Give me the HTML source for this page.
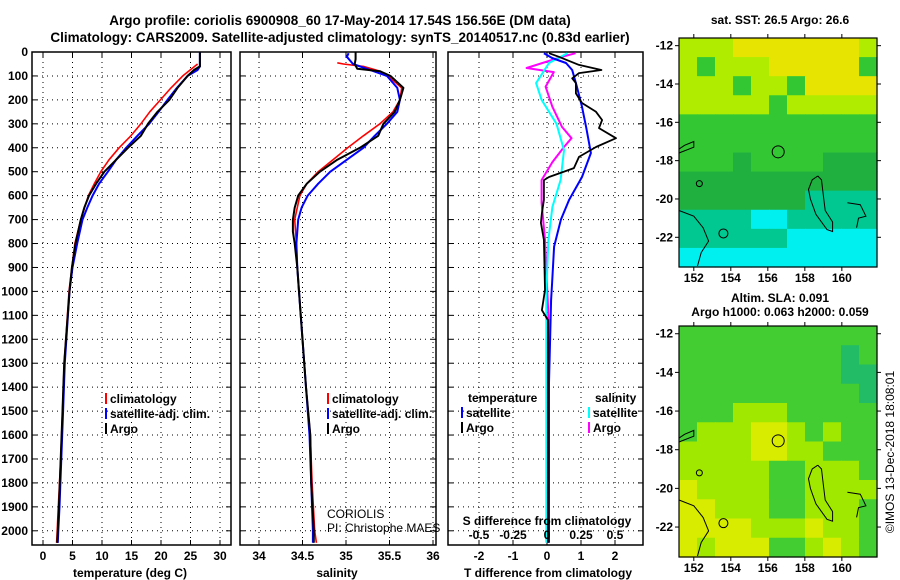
<!DOCTYPE html>
<html><head><meta charset="utf-8"><style>
html,body{margin:0;padding:0;background:#fff;}
svg{display:block;font-family:"Liberation Sans",sans-serif;}
.b{font-weight:bold;font-size:12px;}
</style></head><body>
<svg id="s" width="900" height="580" viewBox="0 0 900 580" xmlns="http://www.w3.org/2000/svg">
<text x="340" y="25" text-anchor="middle" class="b" style="font-size:13.5px">Argo profile: coriolis 6900908_60 17-May-2014 17.54S 156.56E (DM data)</text>
<text x="340" y="42" text-anchor="middle" class="b" style="font-size:13.5px">Climatology: CARS2009. Satellite-adjusted climatology: synTS_20140517.nc (0.83d earlier)</text>
<text x="780" y="24" text-anchor="middle" class="b">sat. SST: 26.5 Argo: 26.6</text>
<text x="780" y="302" text-anchor="middle" class="b">Altim. SLA: 0.091</text>
<text x="780" y="316" text-anchor="middle" class="b">Argo h1000: 0.063 h2000: 0.059</text>
<text transform="translate(894,452) rotate(-90)" text-anchor="middle" style="font-size:12px">©IMOS 13-Dec-2018 18:08:01</text>
<g id="g"></g>
</svg>
<script>
// ---- data ----
const depths = [0,60,75,100,150,200,250,300,350,400,450,500,550,600,650,700,800,900,1000,1300,1500,1700,1900,2000,2050];
const tempArgo = [26.6,26.6,25.6,24.5,22.8,21.4,19.4,17.8,16.6,14.4,12.4,10.4,9.0,7.8,7.0,6.4,5.5,4.9,4.5,3.6,3.3,3.0,2.7,2.5,2.4];
const tempClimDepths = [50,100,150,200,250,300,350,400,450,500,550,600,700,800,900,1000,1300,1500,1700,1900,2000,2050];
const tempClim = [26.2,23.7,21.7,19.9,18.1,16.6,14.9,12.9,11.2,9.8,8.7,7.7,6.4,5.4,4.9,4.4,3.6,3.3,3.0,2.6,2.4,2.3];
const tempSat = [26.6,26.6,26.2,24.5,22.7,21.1,19.6,18.0,16.0,14.1,12.4,11.0,9.5,8.4,7.5,6.7,5.8,5.0,4.5,3.7,3.4,3.1,2.8,2.6,2.5];
const salDepths = [0,30,50,70,80,100,150,200,250,300,350,400,450,500,550,600,650,700,750,800,900,1000,1400,1600,1800,2000,2050];
const salArgo = [35.11,35.11,35.10,35.13,35.39,35.51,35.66,35.62,35.56,35.43,35.37,35.16,34.90,34.70,34.55,34.45,34.41,34.39,34.39,34.41,34.44,34.46,34.54,34.59,34.60,34.63,34.63];
const salClimDepths = [45,50,60,80,100,150,200,250,300,350,400,450,500,550,600,700,800,900,1000,1400,1600,1800,2000,2050];
const salClim = [34.90,34.97,35.20,35.39,35.48,35.64,35.62,35.54,35.39,35.20,35.02,34.85,34.68,34.55,34.47,34.41,34.43,34.44,34.46,34.54,34.59,34.61,34.64,34.66];
const salSatDepths = [5,20,50,70,100,150,200,250,300,350,400,450,500,550,600,650,700,800,900,1000,1400,1600,1800,2000,2050];
const salSat = [35.03,35.01,35.08,35.24,35.47,35.59,35.62,35.59,35.47,35.33,35.20,35.01,34.82,34.68,34.56,34.49,34.45,34.43,34.44,34.46,34.54,34.58,34.60,34.62,34.62];
const tdArgoDepths = [5,20,54,75,88,110,130,173,213,250,284,318,360,397,438,485,522,535,618,673,714,785,994,1078,1120,1500,2050];
const tdArgo = [0.06,0.35,0.94,1.6,0.94,0.74,0.85,0.85,1.03,1.44,1.62,1.53,2.03,1.44,0.94,0.79,0.06,-0.09,-0.09,-0.15,-0.18,-0.09,-0.06,-0.15,0.03,0.03,0.03];
const tdSatDepths = [5,25,46,75,145,229,313,422,522,618,700,813,965,1035,1382,2050];
const tdSat = [-0.09,0.15,0.56,0.74,0.88,1.03,1.15,1.29,1.03,0.65,0.41,0.21,0.15,0.12,0.06,0.06];
const sdArgoDepths = [5,20,67,84,145,229,313,360,397,460,535,630,785,1100,2050];
const sdArgo = [0.21,0.11,-0.15,0.05,-0.01,0.04,0.11,0.18,0.125,0.04,-0.04,-0.04,-0.015,0.01,0.01];
const sdSatDepths = [5,46,130,200,300,410,535,647,785,1000,2050];
const sdSat = [0.15,0.015,-0.08,-0.04,0.07,0.125,0.1,0.04,0.01,-0.005,-0.005];
const depthTicks = [0,100,200,300,400,500,600,700,800,900,1000,1100,1200,1300,1400,1500,1600,1700,1800,1900,2000];
const tempTicks = [0,5,10,15,20,25,30];
const salTicks = [34,34.5,35,35.5,36];
const salTickLabels = ["34","34.5","35","35.5","36"];
const tdTicks = [-2,-1,0,1,2];
const sdTicks = [-0.5,-0.25,0,0.25,0.5];
const sdTickLabels = ["-0.5","-0.25","0","0.25","0.5"];
const latTicks = [-12,-14,-16,-18,-20,-22];
const lonTicks = [152,154,156,158,160];
// map cells: rows from lat -11.6 downward (1 deg each), columns from lon 151.2 (~1 deg each)
const sstRows = ["LLLYYYYYYYL","LGLLLYYYYYG","LLLGLLGYYYY","LLLLLGLLLLL","GGGGGGGGGGG","GGGGGGGGGGG","GGGDGGGGDDD","DDDDDDDDDDD","DDDDDDDTTTT","TTTTCCTTTTT","TTTTTTCCCCC","CCCCCCCCCCC"];
const slaRows = ["GGGGGGGGGGG","GGGGGGGGGTG","GGGGGGGGGTT","GGGGGGGGGGT","GGGLLLGGGGG","GLLLYYLGLGG","LLLLYYLLGGG","LLLLLGGLLLG","YLLLLGGLLLL","YYLLLGGLLLG","YYYYLLLYLLG","YLYYYGGLYLG"];
const sstColors = {Y:"#e6e400",L:"#b0ec00",G:"#33c833",D:"#20b040",T:"#00c890",C:"#00f0f0"};
const slaColors = {Y:"#d8ec00",L:"#a0e800",G:"#44cc33",T:"#22bb66"};

// ---- drawing ----
const NS="http://www.w3.org/2000/svg";
const G=document.getElementById('g');
function mk(tag,attrs,parent){const e=document.createElementNS(NS,tag);for(const k in attrs)e.setAttribute(k,attrs[k]);(parent||G).appendChild(e);return e;}
const Y0=52, PY=0.2394, YB=545;
function yD(d){return Y0+d*PY;}

function panel(name,x0,x1,xs,xt,xl,showY){
  const g=mk('g',{});
  
  
  for(const d of depthTicks){
    const l=mk('line',{x1:x0,x2:x1,y1:yD(d),y2:yD(d),stroke:'#000','stroke-width':1,'stroke-dasharray':'1,4'},g);
    
    
    mk('line',{x1:x0,x2:x0+5,y1:yD(d),y2:yD(d),stroke:'#000'},g);
    mk('line',{x1:x1-5,x2:x1,y1:yD(d),y2:yD(d),stroke:'#000'},g);
    if(showY){const t=mk('text',{x:x0-4,y:yD(d)+4,'text-anchor':'end','class':'b'},g);t.textContent=d;
      
      }
  }
  xt.forEach((v,i)=>{
    const x=xs(v);
    const l=mk('line',{x1:x,x2:x,y1:Y0,y2:YB,stroke:'#000','stroke-width':1,'stroke-dasharray':'1,4'},g);
    
    
    mk('line',{x1:x,x2:x,y1:YB-5,y2:YB,stroke:'#000'},g);
    mk('line',{x1:x,x2:x,y1:Y0,y2:Y0+5,stroke:'#000'},g);
    const t=mk('text',{x:x,y:560,'text-anchor':'middle','class':'b'},g);t.textContent=xl[i];
    
    
  });
  const r=mk('rect',{x:x0,y:Y0,width:x1-x0,height:YB-Y0,fill:'none',stroke:'#000','stroke-width':1.5},g);
  
  
  return g;
}
function line(name,ds,vs,xs,col,w){
  let p='';ds.forEach((d,i)=>{p+=(i?'L':'M')+xs(vs[i]).toFixed(1)+','+yD(d).toFixed(1);});
  const e=mk('path',{d:p,fill:'none',stroke:col,'stroke-width':w,'stroke-linejoin':'round'});
  
  
}
function txt(name,x,y,s,cls,anchor,extra){const t=mk('text',Object.assign({x:x,y:y,'class':cls||'b','text-anchor':anchor||'start'},extra||{}));t.textContent=s;
  
  return t;}
function legend(name,x,y,col,label){
  const r=mk('rect',{x:x,y:y-10,width:2,height:11,fill:col});
  
  
  txt(name,x+5,y,label);
}

// Panel 1: temperature
const xT=v=>43+5.9*v;
panel('temperature-panel',32,231,xT,tempTicks,tempTicks,true);
line('temp-climatology-line',tempClimDepths,tempClim,xT,'#ff0000',1.6);
line('temp-satellite-line',depths,tempSat,xT,'#0000ff',2);
line('temp-argo-line',depths,tempArgo,xT,'#000',2);
txt('x-axis-title-temperature',130,577,'temperature (deg C)','b','middle');
legend('legend-climatology',105,403,'#ff0000','climatology');
legend('legend-satellite-adj',105,418,'#0000ff','satellite-adj. clim.');
legend('legend-argo',105,433,'#000','Argo');

// Panel 2: salinity
const xS=v=>259+87*(v-34);
panel('salinity-panel',240,436,xS,salTicks,salTickLabels,false);
line('sal-climatology-line',salClimDepths,salClim,xS,'#ff0000',1.6);
line('sal-satellite-line',salSatDepths,salSat,xS,'#0000ff',2);
line('sal-argo-line',salDepths,salArgo,xS,'#000',2);
txt('x-axis-title-salinity',337,577,'salinity','b','middle');
legend('legend-climatology-2',327,403,'#ff0000','climatology');
legend('legend-satellite-adj-2',327,418,'#0000ff','satellite-adj. clim.');
legend('legend-argo-2',327,433,'#000','Argo');
txt('coriolis-label',327,518,'CORIOLIS','n','start',{style:'font-size:12px'});
txt('pi-label',327,532,'PI: Christophe MAES','n','start',{style:'font-size:12px'});

// Panel 3: differences
const xTd=v=>547+34*v;
const xSd=v=>547+136*v;
panel('difference-panel',448,643,xTd,tdTicks,tdTicks,false);
line('sd-argo-line',sdArgoDepths,sdArgo,xSd,'#ff00ff',2);
line('sd-satellite-line',sdSatDepths,sdSat,xSd,'#00ffff',2);
line('td-satellite-line',tdSatDepths,tdSat,xTd,'#0000ff',2);
line('td-argo-line',tdArgoDepths,tdArgo,xTd,'#000',1.8);
txt('x-axis-title-tdiff',548,577,'T difference from climatology','b','middle');
txt('s-diff-title',547,525,'S difference from climatology','b','middle');
sdTicks.forEach((v,i)=>txt('s-diff-tick-label',xSd(v),539,sdTickLabels[i],'b','middle'));
txt('legend-temperature-head',468,402,'temperature');
legend('legend-t-satellite',461,417,'#0000ff','satellite');
legend('legend-t-argo',461,432,'#000','Argo');
txt('legend-salinity-head',595,402,'salinity');
legend('legend-s-satellite',588,417,'#00ffff','satellite');
legend('legend-s-argo',588,432,'#ff00ff','Argo');

// Maps
const MX0=679,MX1=877,LON0=151.2,LAT0=-11.6,PX_LON=(MX1-MX0)/10.7;
function map(name,top,bot,rows,colors){
  const g=mk('g',{});
  
  
  const pxLat=(bot-top)/11.95;
  const lx=lon=>MX0+(lon-LON0)*PX_LON;
  const ly=lat=>top+(LAT0-lat)*pxLat;
  const cw=(MX1-MX0)/rows[0].length, ch=(bot-top)/rows.length;
  rows.forEach((row,r)=>{[...row].forEach((c,k)=>{
    const cell=mk('rect',{x:MX0+k*cw,y:top+r*ch,width:cw+0.6,height:ch+0.6,fill:colors[c]},g);
    
    
  });});
  const coast=[[[158.7,-18.8],[158.9,-19.0],[159.0,-19.8],[159.1,-20.6],[159.5,-21.2],[159.5,-21.7],[159.2,-21.6],[158.6,-20.8],[158.3,-20.0],[158.2,-19.5],[158.4,-19.0],[158.7,-18.8]],
    [[151.2,-20.6],[152.0,-20.9],[152.5,-21.5],[152.8,-22.2],[152.4,-22.8],[152.2,-23.5]],
    [[151.2,-17.6],[152.0,-17.3],[152.0,-17.0],[151.5,-17.2],[151.2,-17.4]],
    [[160.3,-20.2],[161.0,-20.3],[161.3,-20.9],[160.9,-21.0],[160.8,-21.5]]];
  coast.forEach(c=>{let p='';c.forEach((q,i)=>p+=(i?'L':'M')+lx(q[0]).toFixed(1)+','+ly(q[1]).toFixed(1));
    const e=mk('path',{d:p,fill:'none',stroke:'#000','stroke-width':1},g);
    
    });
  const fl=mk('circle',{cx:lx(156.56),cy:ly(-17.54),r:6,fill:'none',stroke:'#000','stroke-width':1},g);
  
  
  mk('circle',{cx:lx(152.3),cy:ly(-19.2),r:3,fill:'none',stroke:'#000'},g);
  mk('circle',{cx:lx(153.6),cy:ly(-21.8),r:4.5,fill:'none',stroke:'#000'},g);
  const fr=mk('rect',{x:MX0,y:top,width:MX1-MX0,height:bot-top,fill:'none',stroke:'#000','stroke-width':1.2},g);
  
  
  latTicks.forEach(v=>{const y=ly(v);
    mk('line',{x1:MX0-4,x2:MX0,y1:y,y2:y,stroke:'#000'},g);
    mk('line',{x1:MX1,x2:MX1+4,y1:y,y2:y,stroke:'#000'},g);
    const t=mk('text',{x:MX0-6,y:y+4,'text-anchor':'end','class':'b'},g);t.textContent=v;
    
    });
  lonTicks.forEach(v=>{const x=lx(v);
    mk('line',{x1:x,x2:x,y1:bot,y2:bot+4,stroke:'#000'},g);
    mk('line',{x1:x,x2:x,y1:top-4,y2:top,stroke:'#000'},g);
    const t=mk('text',{x:x,y:bot+15,'text-anchor':'middle','class':'b'},g);t.textContent=v;
    
    });
}
map('sst-map',38,267,sstRows,sstColors);
map('sla-map',326,557,slaRows,slaColors);
</script>
</body></html>
